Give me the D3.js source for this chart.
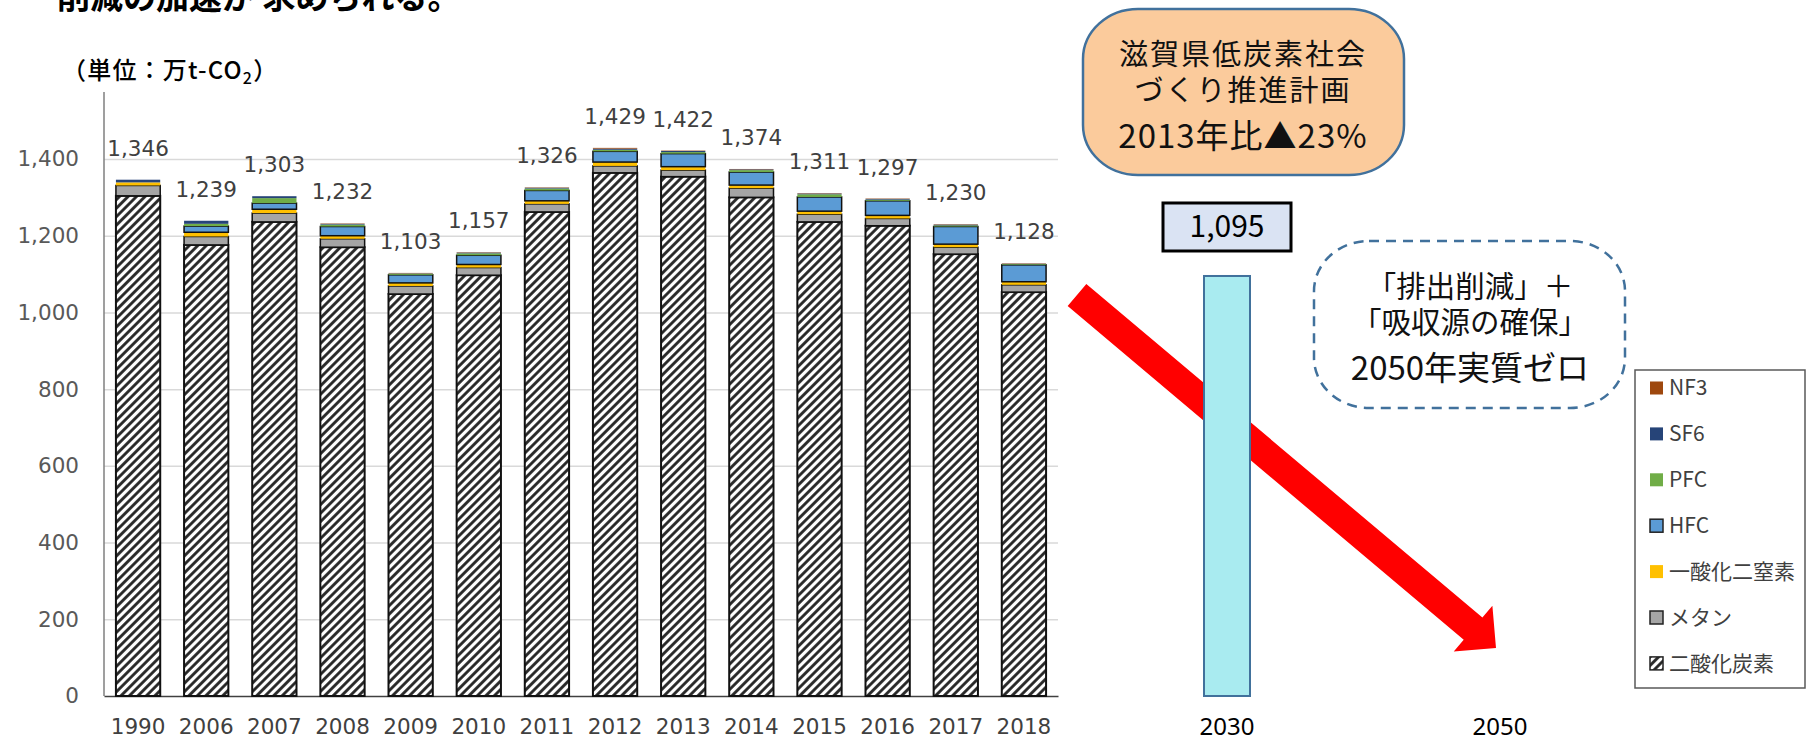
<!DOCTYPE html>
<html>
<head>
<meta charset="utf-8">
<script src="https://cdn.jsdelivr.net/npm/d3@7"></script>
<style>
body{margin:0;background:#fff;}
svg{display:block;}
</style>
</head>
<body>
<svg id="chart" width="1807" height="737"></svg>
<script>
// data (万t-CO2)
let years = ['1990','2006','2007','2008','2009','2010','2011','2012','2013','2014','2015','2016','2017','2018'];
let totals = [1346,1239,1303,1232,1103,1157,1326,1429,1422,1374,1311,1297,1230,1128];
let co2 = [1304,1176,1236,1170,1048,1097,1262,1364,1354,1300,1236,1226,1152,1053];
let ch4 = [27,22,23,22,21,20,21,18,17,24,20,19,18,19];
let n2o = [8,11,10,8,8,8,8,10,9,8,8,8,8,8];
let hfc = [0,16,16,24,21,24,27,28,34,34,37,38,46,44];
let pfc = [0,6,13,5,3,5,5,4,4,5,7,3,3,2];
let sf6 = [7,8,5,2,1,2,2,3,3,2,2,2,2,1];
let nf3 = [0,0,0,1,1,1,1,2,1,1,1,1,1,1];
let gasKeys = ['co2','ch4','n2o','hfc','pfc','sf6','nf3'];
let gasNames = ['二酸化炭素','メタン','一酸化二窒素','HFC','PFC','SF6','NF3'];
let gasColors = ['url(#hatch)','#A5A5A5','#FFC000','#5B9BD5','#70AD47','#264478','#9E480E'];
let yTicks = [0,200,400,600,800,1000,1200,1400];
let futureYears = ['2030','2050'];
let futureValues = [1095, 0];

let margin = {top: 159, left: 104, right: 749, bottom: 41};
let svgWidth = 1807, svgHeight = 737;
let width = svgWidth - margin.left - margin.right;   // 954
let baseY = svgHeight - margin.bottom;               // 696

let svg = d3.select('#chart');
let numFont = '"DejaVu Sans", Verdana, sans-serif';
let jpFont = '"Noto Sans CJK JP", "Noto Sans", sans-serif';

let xScale = d3.scaleBand().domain(years).range([margin.left, margin.left + width])
    .paddingInner(0.35).paddingOuter(0.175);
let yScale = d3.scaleLinear().domain([0,1400]).range([baseY, margin.top]);
let futureX = d3.scalePoint().domain(futureYears).range([1227, 1500]);

// hatch for CO2
let defs = svg.append('defs');
let pat = defs.append('pattern').attr('id','hatch')
    .attr('patternUnits','userSpaceOnUse').attr('width',6).attr('height',6)
    .attr('patternTransform','rotate(45)');
pat.append('rect').attr('width',6).attr('height',6).attr('fill','#fff');
pat.append('line').attr('x1',1.5).attr('y1',0).attr('x2',1.5).attr('y2',6)
    .attr('stroke','#222').attr('stroke-width',2.8);

// title (cut at top edge)
svg.append('text').attr('x',57).attr('y',9)
    .attr('font-family',jpFont).attr('font-size',33).attr('font-weight',700)
    .attr('fill','#000').text('削減の加速が 求められる。');

// unit
let unit = svg.append('text').attr('x',62).attr('y',79)
    .attr('font-family',jpFont).attr('font-size',24).attr('font-weight',500)
    .attr('letter-spacing',1.2).attr('fill','#000');
unit.append('tspan').text('（単位：万t-CO');
unit.append('tspan').attr('font-size',16).attr('dy',5).text('2');
unit.append('tspan').attr('dy',-5).text('）');

drawAxis();
drawBars();
drawFuture();
drawLegend();

function drawAxis(){
    // gridlines
    let grid = svg.append('g').attr('transform',`translate(${margin.left},0)`)
        .call(d3.axisLeft(yScale).tickValues(yTicks.filter(d=>d>0)).tickSize(-width).tickFormat(''));
    grid.select('.domain').remove();
    grid.selectAll('line').attr('stroke','#D9D9D9').attr('stroke-width',1.5);

    let ya = svg.append('g').attr('transform',`translate(${margin.left},0)`)
        .call(d3.axisLeft(yScale).tickValues(yTicks).tickSize(0).tickPadding(25).tickFormat(d3.format(',')));
    ya.select('.domain').remove();
    ya.selectAll('text').attr('font-family',numFont).attr('font-size',21.5).attr('fill','#595959');

    svg.append('line').attr('x1',margin.left).attr('x2',margin.left)
        .attr('y1',yScale(1575)).attr('y2',baseY)
        .attr('stroke','#7F7F7F').attr('stroke-width',1.5);

    let xa = svg.append('g').attr('transform',`translate(0,${baseY})`)
        .call(d3.axisBottom(xScale).tickSize(0).tickSizeOuter(0).tickPadding(23));
    xa.select('.domain').attr('stroke','#404040').attr('stroke-width',1.5);
    xa.selectAll('text').attr('font-family',numFont).attr('font-size',21.5).attr('fill','#404040');
}

function drawBars(){
    let table = years.map((y,i)=>({year:y, co2:co2[i], ch4:ch4[i], n2o:n2o[i], hfc:hfc[i], pfc:pfc[i], sf6:sf6[i], nf3:nf3[i]}));
    let stacked = d3.stack().keys(gasKeys)(table);
    let outlined = {co2:2, ch4:1.5, hfc:1.5};

    svg.append('g').selectAll('g')
        .data(stacked)
        .enter()
        .append('g')
        .attr('fill',(d,i)=>gasColors[i])
        .attr('stroke',d=>outlined[d.key] ? '#111' : 'none')
        .attr('stroke-width',d=>outlined[d.key] || 0)
        .selectAll('rect')
        .data(d=>d)
        .enter()
        .append('rect')
        .attr('x',d=>xScale(d.data.year))
        .attr('width',xScale.bandwidth())
        .attr('y',d=>yScale(d[1]))
        .attr('height',d=>yScale(d[0]) - yScale(d[1]));

    svg.append('g').selectAll('text')
        .data(totals)
        .enter()
        .append('text')
        .attr('x',(d,i)=>xScale(years[i]) + xScale.bandwidth()/2)
        .attr('y',d=>yScale(d) - 24)
        .attr('text-anchor','middle')
        .attr('font-family',numFont).attr('font-size',21.5).attr('fill','#404040')
        .text(d=>d3.format(',')(d));
}

function drawFuture(){
    // red arrow
    let start = [1077, 295], tip = [1496, 648];
    let dx = tip[0]-start[0], dy = tip[1]-start[1], len = Math.hypot(dx,dy);
    let ux = dx/len, uy = dy/len, nx = -uy, ny = ux;
    let hw = 14.5, hhw = 30, hl = 30;
    let b = [tip[0]-ux*hl, tip[1]-uy*hl];
    let pts = [
        [start[0]+nx*hw, start[1]+ny*hw],
        [b[0]+nx*hw, b[1]+ny*hw],
        [b[0]+nx*hhw, b[1]+ny*hhw],
        tip,
        [b[0]-nx*hhw, b[1]-ny*hhw],
        [b[0]-nx*hw, b[1]-ny*hw],
        [start[0]-nx*hw, start[1]-ny*hw]
    ];
    svg.append('polygon').attr('points',pts.map(p=>p.join(',')).join(' ')).attr('fill','#FF0000');

    // 2030 target bar
    let bw = 46;
    svg.append('g').selectAll('rect')
        .data(futureValues.filter(v=>v>0))
        .enter()
        .append('rect')
        .attr('x',(d,i)=>futureX(futureYears[i]) - bw/2)
        .attr('width',bw)
        .attr('y',d=>yScale(d))
        .attr('height',d=>baseY - yScale(d))
        .attr('fill','#A9EBF0').attr('stroke','#41719C').attr('stroke-width',2);

    svg.append('g').selectAll('text')
        .data(futureYears)
        .enter()
        .append('text')
        .attr('x',d=>futureX(d))
        .attr('y',735)
        .attr('text-anchor','middle')
        .attr('font-family','"Noto Sans", "Open Sans", sans-serif').attr('font-size',24).attr('fill','#000')
        .text(d=>d);

    // value box
    let vx = futureX('2030'), vy = yScale(futureValues[0]);
    svg.append('rect').attr('x',vx-64).attr('y',vy-73).attr('width',128).attr('height',48)
        .attr('fill','#DAE3F3').attr('stroke','#000').attr('stroke-width',3);
    svg.append('text').attr('x',vx).attr('y',vy-39).attr('text-anchor','middle')
        .attr('font-family',jpFont).attr('font-size',30).attr('fill','#000')
        .text(d3.format(',')(futureValues[0]));

    // plan box
    svg.append('rect').attr('x',1083).attr('y',9).attr('width',321).attr('height',166)
        .attr('rx',55).attr('ry',50)
        .attr('fill','#FBCB9C').attr('stroke','#41719C').attr('stroke-width',2.5);
    let plan = [['滋賀県低炭素社会',65,29,2],['づくり推進計画',101,29,2],['2013年比▲23%',148,33,1]];
    svg.append('g').selectAll('text').data(plan).enter().append('text')
        .attr('x',1243).attr('y',d=>d[1]).attr('text-anchor','middle')
        .attr('font-family',jpFont).attr('font-size',d=>d[2]).attr('letter-spacing',d=>d[3]).attr('fill','#111')
        .text(d=>d[0]);

    // net zero box
    svg.append('rect').attr('x',1314).attr('y',241).attr('width',311).attr('height',167)
        .attr('rx',55).attr('ry',50)
        .attr('fill','none').attr('stroke','#41719C').attr('stroke-width',2.5)
        .attr('stroke-dasharray','10,7');
    let zero = [['「排出削減」＋',297,29.5],['「吸収源の確保」',333,29.5],['2050年実質ゼロ',380,33]];
    svg.append('g').selectAll('text').data(zero).enter().append('text')
        .attr('x',1470).attr('y',d=>d[1]).attr('text-anchor','middle')
        .attr('font-family',jpFont).attr('font-size',d=>d[2]).attr('fill','#111')
        .text(d=>d[0]);
}

function drawLegend(){
    let lg = svg.append('g');
    lg.append('rect').attr('x',1635).attr('y',370).attr('width',170).attr('height',318)
        .attr('fill','#fff').attr('stroke','#595959').attr('stroke-width',1.5);
    let order = d3.range(gasKeys.length).reverse();
    let item = lg.selectAll('g.item')
        .data(order)
        .enter()
        .append('g')
        .attr('class','item')
        .attr('transform',(d,i)=>`translate(1650,${388 + i*45.9})`);
    item.append('rect').attr('x',0).attr('y',-6.5).attr('width',13).attr('height',13)
        .attr('fill',d=>gasColors[d])
        .attr('stroke',d=>[0,1,3].includes(d) ? '#222' : 'none')
        .attr('stroke-width',1.5);
    item.append('text').attr('x',19).attr('y',0).attr('dy','0.35em')
        .attr('font-family',jpFont).attr('font-size',21).attr('fill','#404040')
        .text(d=>gasNames[d]);
}
</script>
</body>
</html>
